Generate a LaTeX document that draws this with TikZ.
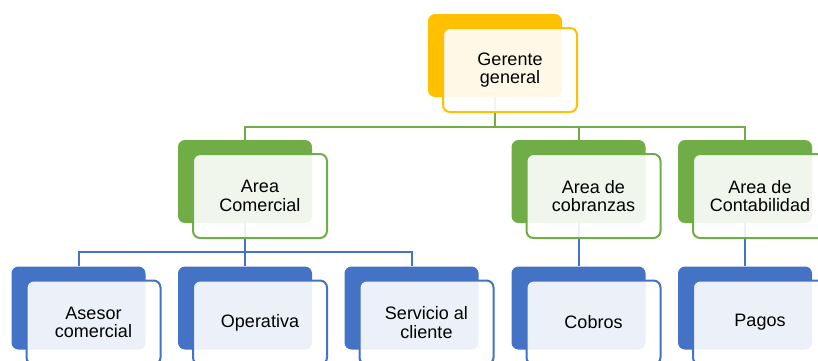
\documentclass[tikz,border=0pt]{standalone}
\usepackage{fontspec}
\setmainfont{Liberation Sans}
\usetikzlibrary{backgrounds}
\definecolor{cgold}{HTML}{FFC000}
\definecolor{cgreen}{HTML}{70AD47}
\definecolor{cblue}{HTML}{4472C4}
\begin{document}
\begin{tikzpicture}[x=1pt,y=-1pt,
  backbox/.style={rounded corners=7pt, minimum width=134pt, minimum height=83pt, inner sep=0pt, fill=#1, draw=none},
  frontbox/.style={rounded corners=7pt, minimum width=134pt, minimum height=84pt, inner sep=0pt, draw=#1, line width=2pt, fill=white, fill opacity=0.9, text opacity=1, align=center, font=\fontsize{18}{18.5}\selectfont},
  conn/.style={draw=#1, line width=2pt}]
\clip (0,0) rectangle (818,360);
\useasboundingbox (0,0) rectangle (818,360);
% level 1
\node[backbox=cgold] (g) at (495,55.5) {};
\node[frontbox=cgold] (gf) at (510,70) {Gerente\\general};
% level 2
\node[backbox=cgreen] (ac) at (245,181.5) {};
\node[frontbox=cgreen] (acf) at (260,196) {Area\\Comercial};
\node[backbox=cgreen] (cob) at (578.5,181.5) {};
\node[frontbox=cgreen] (cobf) at (593.5,196) {Area de\\cobranzas};
\node[backbox=cgreen] (cont) at (745,181.5) {};
\node[frontbox=cgreen] (contf) at (760,196) {Area de\\Contabilidad};
% level 3
\node[backbox=cblue] (ase) at (78.5,308) {};
\node[frontbox=cblue] (asef) at (93.5,322.5) {Asesor\\comercial};
\node[backbox=cblue] (ope) at (245,308) {};
\node[frontbox=cblue] (opef) at (260,322.5) {Operativa};
\node[backbox=cblue] (ser) at (411.5,308) {};
\node[frontbox=cblue] (serf) at (426.5,322.5) {Servicio al\\cliente};
\node[backbox=cblue] (cobros) at (578.5,308) {};
\node[frontbox=cblue] (cobrosf) at (593.5,322.5) {Cobros};
\node[backbox=cblue] (pagos) at (745,308) {};
\node[frontbox=cblue] (pagosf) at (760,322.5) {Pagos};
\coordinate (h1) at (495,127);
\coordinate (h2) at (245,252);
\begin{scope}[on background layer]
\draw[conn=cgreen] (ac.north) -- (ac.north |- h1) -- (cont.north |- h1) -- (cont.north);
\draw[conn=cgreen] (g.south) -- (h1);
\draw[conn=cgreen] (cob.north) -- (cob.north |- h1);
\draw[conn=cblue] (ase.north) -- (ase.north |- h2) -- (ser.north |- h2) -- (ser.north);
\draw[conn=cblue] (ac.south) -- (ope.north);
\draw[conn=cblue] (cob.south) -- (cobros.north);
\draw[conn=cblue] (cont.south) -- (pagos.north);
\end{scope}
\end{tikzpicture}
\end{document}
